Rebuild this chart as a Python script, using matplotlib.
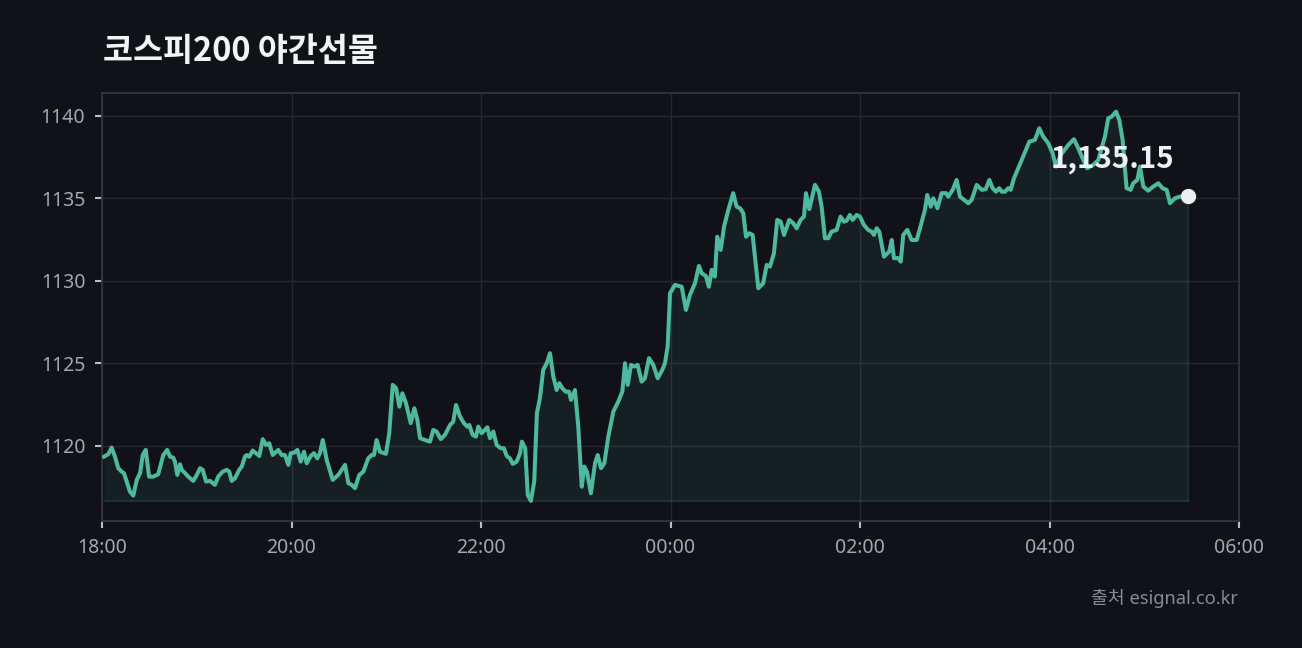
import numpy as np
import matplotlib
matplotlib.use('Agg')
import matplotlib.pyplot as plt

plt.rcParams['font.family'] = ['Noto Sans', 'Noto Sans CJK KR', 'DejaVu Sans']
bold_family = ['Noto Sans CJK KR', 'DejaVu Sans']

# minutes after 18:00
minutes = [
    1.3, 4.0, 6.1, 8.2, 10.3, 12.5, 13.9, 15.6, 17.7, 19.8, 22.0, 24.1, 25.8, 27.7, 29.8,
    32.5, 35.6, 38.8, 41.3, 43.1, 45.1, 46.2, 47.7, 49.4, 50.5, 52.6, 54.6, 57.8, 60.0,
    62.1, 63.8, 65.9, 68.4, 71.5, 73.6, 76.4, 79.0, 80.6, 82.1, 84.2, 86.9, 88.5, 90.5,
    91.6, 93.3, 95.4, 97.5, 99.6, 101.8, 103.8, 105.9, 108.1, 111.6, 113.8, 115.9, 118.0,
    119.5, 121.6, 123.7, 125.8, 127.9, 129.6, 132.2, 134.2, 136.3, 138.0, 139.8, 142.3,
    146.1, 149.6, 153.9, 156.0, 158.1, 160.2, 162.9, 165.5, 168.6, 170.8, 172.2, 173.9,
    176.0, 179.8, 181.9, 184.1, 186.2, 188.3, 190.2, 192.5, 195.5, 197.8, 199.7, 201.4,
    204.5, 207.7, 209.8, 211.9, 214.5, 217.2, 220.4, 222.4, 224.2, 226.7, 229.2, 231.3,
    232.6, 234.7, 236.8, 238.3, 240.4, 244.0, 245.7, 247.8, 249.9, 252.5, 254.5, 256.3,
    258.3, 260.1, 262.6, 264.7, 265.9, 268.0, 269.6, 271.6, 273.7, 275.4, 277.3, 279.4,
    281.6, 283.7, 285.8, 287.9, 289.6, 291.5, 293.6, 295.7, 297.0, 299.5, 301.6, 303.8,
    305.4, 307.1, 309.6, 312.2, 313.9, 316.0, 318.1, 320.6, 323.8, 326.9, 329.5, 331.2,
    332.9, 335.0, 337.1, 339.2, 341.7, 343.8, 346.4, 349.1, 351.9, 354.8, 356.5, 358.2,
    359.7, 362.8, 367.1, 369.8, 372.3, 375.5, 378.0, 379.7, 382.4, 384.3, 386.1, 388.1,
    389.6, 391.8, 393.9, 396.6, 399.7, 401.9, 404.0, 406.1, 407.8, 409.9, 412.0, 415.6,
    418.7, 420.9, 423.0, 425.5, 427.6, 429.8, 431.9, 435.2, 437.7, 439.9, 442.4, 444.5,
    445.8, 447.9, 451.5, 454.0, 455.7, 457.8, 459.9, 462.0, 465.2, 467.7, 469.8, 471.5,
    473.6, 475.3, 477.9, 480.0, 482.5, 485.2, 487.4, 488.8, 490.6, 492.2, 495.2, 498.5,
    500.1, 501.5, 504.2, 505.8, 507.4, 510.0, 512.7, 515.9, 518.0, 521.1, 522.6, 524.8,
    526.4, 529.0, 531.7, 534.5, 535.9, 538.7, 541.2, 543.3, 545.9, 548.6, 550.7, 553.9,
    557.1, 559.6, 561.9, 564.0, 566.1, 568.2, 569.7, 571.8, 573.9, 575.4, 577.5, 582.4,
    587.2, 590.8, 593.5, 596.0, 599.2, 602.0, 604.1, 607.1, 611.9, 615.5, 618.2, 621.4,
    623.9, 627.7, 630.9, 633.0, 635.1, 637.2, 639.4, 642.1, 644.2, 646.3, 648.8, 651.4,
    653.0, 655.6, 657.3, 659.4, 662.5, 665.7, 668.9, 671.6, 674.2, 676.3, 679.4, 682.6,
    687.9,
]

prices = [
    1119.35, 1119.50, 1119.90, 1119.35, 1118.65, 1118.44, 1118.35, 1117.84, 1117.23, 1116.99,
    1117.94, 1118.35, 1119.45, 1119.76, 1118.14, 1118.14, 1118.28, 1119.45, 1119.76, 1119.35,
    1119.29, 1119.05, 1118.24, 1118.89, 1118.55, 1118.35, 1118.14, 1117.88, 1118.24, 1118.65,
    1118.55, 1117.84, 1117.88, 1117.64, 1118.14, 1118.44, 1118.55, 1118.44, 1117.88, 1118.04,
    1118.55, 1118.75, 1119.35,
    1119.45, 1119.35, 1119.72, 1119.56, 1119.39, 1120.41, 1120.06, 1120.16, 1119.45, 1119.76,
    1119.45, 1119.45, 1118.85, 1119.56, 1119.59, 1119.76, 1119.05, 1119.65, 1118.95, 1119.39,
    1119.56, 1119.25, 1119.56, 1120.36, 1119.15, 1117.94, 1118.24, 1118.85, 1117.74, 1117.64,
    1117.44, 1118.24, 1118.44, 1119.25, 1119.45, 1119.45, 1120.36, 1119.65, 1119.52, 1120.77,
    1123.70, 1123.50, 1122.38, 1123.19, 1122.59, 1121.38, 1122.28, 1121.58, 1120.47, 1120.36,
    1120.26, 1120.97, 1120.87, 1120.41, 1120.67, 1121.27, 1121.47, 1122.48, 1121.78, 1121.38,
    1121.17, 1121.27, 1120.67, 1120.56, 1121.17, 1120.77, 1121.13, 1120.47, 1120.87, 1120.06,
    1119.86, 1119.86, 1119.39, 1119.25, 1118.91, 1119.05, 1119.56, 1120.26, 1119.86, 1117.03,
    1116.67, 1117.84, 1121.98, 1122.89, 1124.61, 1125.01, 1125.62, 1124.20, 1123.39, 1123.80,
    1123.50, 1123.29, 1123.29, 1122.79, 1123.39, 1121.17, 1117.53, 1118.75, 1118.44, 1117.13,
    1118.95, 1119.45, 1118.65, 1118.95, 1120.56, 1122.08, 1122.68, 1123.29, 1125.01, 1123.70,
    1124.91, 1124.81, 1124.91, 1123.90, 1124.10, 1125.32, 1124.91, 1124.10, 1124.61, 1125.01,
    1126.02, 1129.25, 1129.76, 1129.65, 1128.24, 1129.15, 1129.86, 1130.91, 1130.47, 1130.30,
    1129.65, 1130.67, 1130.26, 1132.68, 1131.88, 1133.29, 1134.30, 1135.32, 1134.50, 1134.41,
    1134.10, 1132.68, 1132.89, 1132.79, 1129.56, 1129.86, 1130.97, 1130.87, 1131.68, 1133.70,
    1133.59, 1132.79, 1133.70, 1133.50, 1133.19, 1133.70, 1133.90, 1135.32, 1134.35, 1135.82,
    1135.41, 1134.50, 1132.59, 1132.59, 1132.99, 1133.09, 1133.90, 1133.59, 1133.65, 1134.00,
    1133.70, 1134.00, 1133.90, 1133.39, 1133.09, 1132.99, 1132.79, 1133.19, 1132.99, 1131.47,
    1131.78, 1132.48, 1131.38, 1131.38, 1131.17, 1132.79, 1133.09, 1132.48, 1132.48, 1133.19,
    1134.30, 1135.21, 1134.50, 1135.01, 1134.41, 1135.32, 1135.32, 1135.11, 1135.52, 1136.12,
    1135.11, 1134.91, 1134.71, 1134.91, 1135.82, 1135.52, 1135.56, 1136.12, 1135.62, 1135.41,
    1135.62, 1135.41, 1135.41, 1135.62, 1135.52, 1136.22, 1137.33, 1138.44, 1138.55, 1139.25,
    1138.75, 1138.35, 1137.74, 1136.93, 1137.64, 1138.24, 1138.59, 1138.04, 1137.33, 1136.83,
    1137.03, 1137.33, 1138.04, 1138.75, 1139.86, 1139.96, 1140.26, 1139.76, 1138.55, 1135.62,
    1135.52, 1135.92, 1136.12, 1136.93, 1135.72, 1135.47, 1135.72, 1135.92, 1135.62, 1135.52,
    1134.71, 1135.01, 1135.11, 1135.15,
]

tick_minutes = [0, 120, 240, 360, 480, 600, 720]
tick_labels = ['18:00', '20:00', '22:00', '00:00', '02:00', '04:00', '06:00']
y_ticks = [1120, 1125, 1130, 1135, 1140]

bg = '#111217'
line_c = '#4eb8a0'
grid_c = '#25272d'
spine_c = '#33363d'
tick_c = '#a3a7ae'

fig = plt.figure(figsize=(13.02, 6.48), dpi=100, facecolor=bg)
ax = fig.add_axes([102 / 1302, 1 - 521 / 648, (1239 - 102) / 1302, (521 - 93) / 648])
ax.set_facecolor(bg)

x = np.array(minutes)
y = np.array(prices)
base = y.min()

ax.fill_between(x, y, base, color=line_c, alpha=0.09, linewidth=0)
ax.plot([x[0], x[-1]], [base, base], color=line_c, alpha=0.18, lw=1.2)
ax.plot([x[-1], x[-1]], [base, y[-1]], color=line_c, alpha=0.12, lw=1.2)
ax.plot(x, y, color=line_c, lw=2.9, solid_joinstyle='round', zorder=3)
ax.plot(x[-1], y[-1], 'o', color='#eceef2', markersize=10, zorder=4)

ax.annotate(f'{y[-1]:,.2f}', (x[-1], y[-1]), xytext=(-76, 37), textcoords='offset pixels',
            ha='center', va='center', color='#eef0f4', fontsize=21.3, fontweight='bold',
            family=bold_family, zorder=5)

ax.set_xlim(0, 720)
ax.set_ylim(base - 1.22, y.max() + 1.13)
ax.set_xticks(tick_minutes)
ax.set_xticklabels(tick_labels)
ax.set_yticks(y_ticks)

ax.grid(True, color=grid_c, lw=1)
ax.set_axisbelow(True)
for s in ax.spines.values():
    s.set_color(spine_c)
    s.set_linewidth(1.3)
ax.tick_params(axis='both', colors='#b8bcc4', labelcolor=tick_c, labelsize=14,
               length=5, width=1.5)
ax.tick_params(axis='x', pad=7)
ax.tick_params(axis='y', pad=7)

fig.text(103 / 1302, 1 - 52 / 648, '코스피200 야간선물', color='#f2f3f5', fontsize=23.5,
         fontweight='bold', family=bold_family, va='center', ha='left')
fig.text(1238 / 1302, 1 - 598 / 648, '출처 esignal.co.kr', color='#868a92', fontsize=13.2,
         va='center', ha='right')

fig.savefig('out.png', dpi=100, facecolor=bg)
